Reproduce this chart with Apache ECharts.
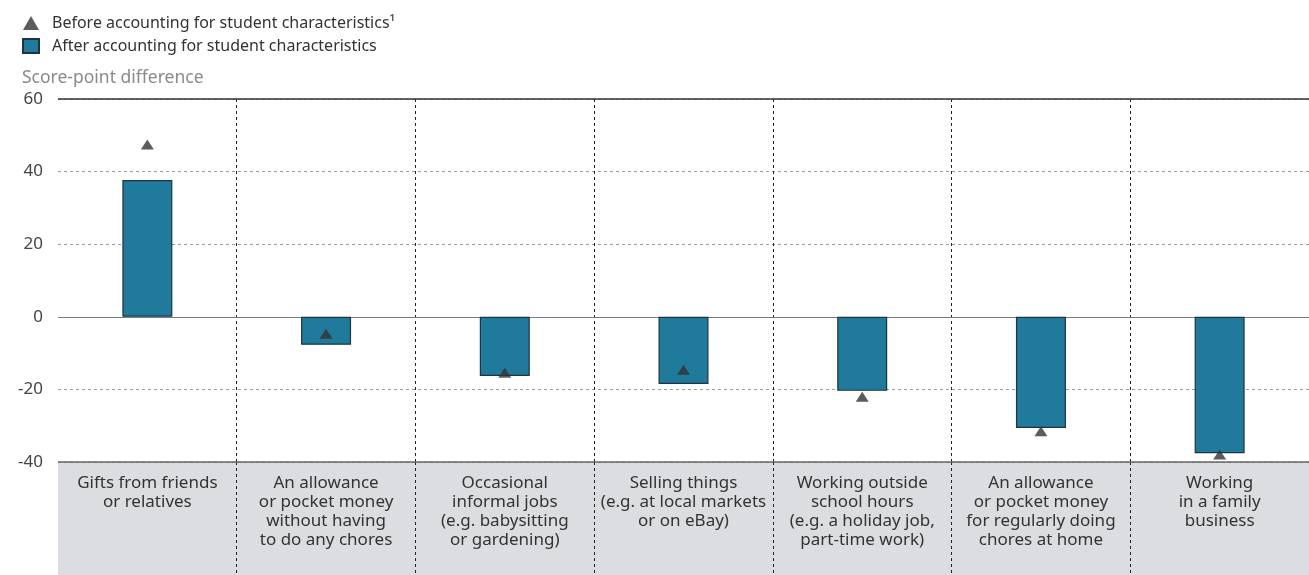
<!DOCTYPE html>
<html>
<head>
<meta charset="utf-8">
<script src="https://cdn.jsdelivr.net/npm/echarts@6/dist/echarts.min.js"></script>
<style>
html,body{margin:0;padding:0;background:#fff;}
#chart{width:1309px;height:575px;}
</style>
</head>
<body>
<div id="chart"></div>
<script>
const categories = [
  "Gifts from friends\nor relatives",
  "An allowance\nor pocket money\nwithout having\nto do any chores",
  "Occasional\ninformal jobs\n(e.g. babysitting\nor gardening)",
  "Selling things\n(e.g. at local markets\nor on eBay)",
  "Working outside\nschool hours\n(e.g. a holiday job,\npart-time work)",
  "An allowance\nor pocket money\nfor regularly doing\nchores at home",
  "Working\nin a family\nbusiness"
];
const afterValues = [37.7, -7.7, -16.3, -18.5, -20.4, -30.6, -37.6];
const beforeValues = [47.5, -4.7, -15.4, -14.6, -22.0, -31.5, -37.9];
const yTicks = { min: -40, max: 60, interval: 20 };
const seriesNames = ["Before accounting for student characteristics\u00b9", "After accounting for student characteristics"];

const FONT = "'Noto Sans', 'Open Sans', sans-serif";
const chart = echarts.init(document.getElementById('chart'));
chart.setOption({
  animation: false,
  textStyle: { fontFamily: FONT },
  title: {
    text: 'Score-point difference',
    left: 17, top: 64,
    textStyle: { fontFamily: FONT, fontSize: 17.5, fontWeight: 'normal', color: '#8a8a8a' }
  },
  legend: {
    orient: 'vertical',
    left: 17, top: 10,
    itemGap: 7,
    itemWidth: 16, itemHeight: 14,
    textStyle: { fontFamily: FONT, fontSize: 16, color: '#333', padding: [0, 0, 0, 8] },
    data: [
      { name: seriesNames[0], icon: 'triangle', itemStyle: { color: '#333' } },
      { name: seriesNames[1], icon: 'rect' }
    ]
  },
  grid: [
    { left: 58, right: 0, top: 99, bottom: 113, containLabel: false },
    { left: 58, right: 0, top: 462, bottom: 0, show: true, backgroundColor: '#dcdde0', borderWidth: 0, z: -1 }
  ],
  xAxis: [
    {
      type: 'category', gridIndex: 0, data: categories,
      axisLine: { show: false },
      axisTick: { show: false },
      axisLabel: { interval: 0, margin: 12, fontFamily: FONT, fontSize: 17, lineHeight: 19, color: '#333', verticalAlign: 'top' },
      splitLine: { show: true, interval: 0, showMinLine: false, showMaxLine: false, lineStyle: { color: '#222', type: [3, 3], width: 1 } }
    },
    {
      type: 'category', gridIndex: 1, data: categories,
      axisLine: { show: false }, axisTick: { show: false }, axisLabel: { show: false },
      splitLine: { show: true, interval: 0, showMinLine: false, showMaxLine: false, lineStyle: { color: '#222', type: [3, 3], width: 1 } }
    }
  ],
  yAxis: [
    {
      type: 'value', gridIndex: 0, min: yTicks.min, max: yTicks.max, interval: yTicks.interval,
      axisLine: { show: false }, axisTick: { show: false },
      axisLabel: { margin: 15, fontFamily: FONT, fontSize: 17, color: '#444' },
      splitLine: { show: true, lineStyle: { color: '#999', type: [3, 3], width: 1 } }
    },
    {
      type: 'value', gridIndex: 1, min: 0, max: 1, show: false,
      splitLine: { show: false }
    }
  ],
  series: [
    {
      name: seriesNames[1], type: 'bar', xAxisIndex: 0, yAxisIndex: 0,
      data: afterValues, barWidth: 50,
      itemStyle: { color: '#1f7a9c', borderColor: '#1f3440', borderWidth: 1.2 },
      markLine: {
        silent: true, symbol: 'none', label: { show: false },
        data: [
          { yAxis: 0, lineStyle: { color: '#7a7a7a', type: 'solid', width: 1.2 } },
          { yAxis: 60, lineStyle: { color: '#333', type: 'solid', width: 1.5 } },
          { yAxis: -40, lineStyle: { color: '#666', type: 'solid', width: 1.5 } }
        ],
        z: 1
      },
      z: 2
    },
    {
      name: seriesNames[0], type: 'scatter', xAxisIndex: 0, yAxisIndex: 0,
      data: beforeValues, symbol: 'triangle', symbolSize: [13, 10],
      itemStyle: { color: '#333' }, z: 5
    }
  ]
});
</script>
</body>
</html>
